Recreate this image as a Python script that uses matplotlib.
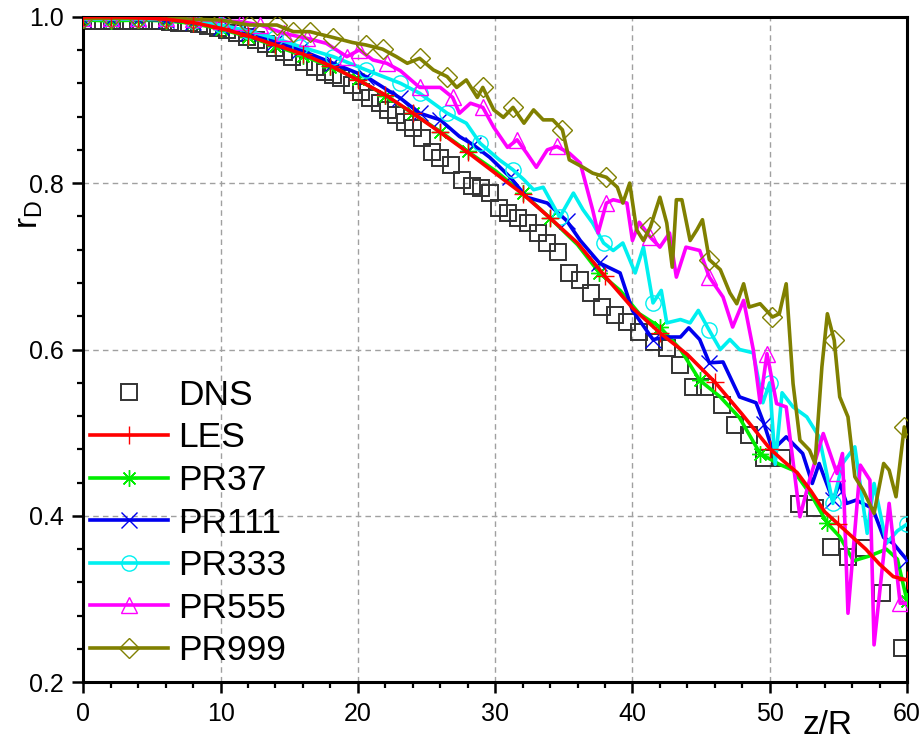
import numpy as np
import matplotlib
matplotlib.use("Agg")
import matplotlib.pyplot as plt

plt.rcParams['font.family'] = ['Liberation Sans', 'DejaVu Sans']
plt.rcParams['mathtext.default'] = 'regular'

# ---------------- data ----------------
dns_x = [0, 0.7, 1.4, 2.1, 2.8, 3.5, 4.2, 4.9, 5.6, 6.3, 7.0, 7.7, 8.4, 9.1, 9.8, 10.5, 11.2, 11.9,
         12.6, 13.3, 14.0, 14.6, 15.2, 16.1, 16.9, 17.6, 18.2, 18.8, 19.6, 20.2, 20.9, 21.6, 22.2,
         22.8, 23.4, 24.0, 24.7, 25.4, 26.0, 26.8, 27.6, 28.3, 29.0, 29.6, 30.3, 30.9, 31.7, 32.4,
         33.1, 33.8, 34.6, 35.4, 36.2, 37.0, 37.8, 38.7, 39.6, 40.5, 41.6, 42.5, 43.5, 44.4, 45.3,
         46.5, 47.5, 48.5, 49.6, 50.9, 52.1, 53.3, 54.5, 55.7, 56.9, 58.2, 59.6]
dns_y = [0.995, 0.995, 0.995, 0.995, 0.995, 0.995, 0.995, 0.995, 0.995, 0.994, 0.993, 0.992, 0.991,
         0.989, 0.987, 0.984, 0.980, 0.976, 0.972, 0.967, 0.962, 0.958, 0.952, 0.946, 0.940, 0.934,
         0.930, 0.926, 0.918, 0.909, 0.902, 0.896, 0.888, 0.882, 0.873, 0.866, 0.854, 0.837, 0.830,
         0.822, 0.804, 0.797, 0.794, 0.788, 0.770, 0.764, 0.758, 0.752, 0.740, 0.728, 0.717, 0.692,
         0.684, 0.668, 0.651, 0.641, 0.633, 0.621, 0.609, 0.602, 0.581, 0.555, 0.555, 0.533, 0.509,
         0.497, 0.470, 0.470, 0.414, 0.410, 0.363, 0.351, 0.362, 0.307, 0.241]

les_x = [0, 2, 4, 6, 8, 10, 12, 14, 16, 18, 20, 22, 24, 26, 28, 30, 32, 34, 36, 38, 40, 42, 44,
         46, 48, 50, 51, 52, 53, 54, 55, 56, 57, 58, 59, 60]
les_y = [1.000, 1.000, 0.999, 0.997, 0.993, 0.986, 0.977, 0.966, 0.955, 0.941, 0.924, 0.906, 0.884,
         0.861, 0.837, 0.812, 0.787, 0.758, 0.728, 0.688, 0.650, 0.620, 0.594, 0.561, 0.522, 0.481,
         0.466, 0.452, 0.430, 0.405, 0.390, 0.375, 0.360, 0.342, 0.327, 0.323]

pr37_x = [0, 2, 4, 6, 8, 10, 12, 14, 16, 18, 20, 22, 24, 26, 28, 30, 32, 34, 36, 37.6, 39.1, 40.5,
          42.0, 43.5, 44.9, 46.4, 47.8, 49.3, 50.7, 51.7, 53.1, 54.2, 55.1, 56.1, 57.3, 58.5, 59.3, 60]
pr37_y = [0.996, 0.995, 0.996, 0.995, 0.992, 0.985, 0.976, 0.965, 0.953, 0.940, 0.925, 0.905, 0.884,
          0.862, 0.838, 0.815, 0.788, 0.758, 0.726, 0.692, 0.671, 0.643, 0.627, 0.600, 0.563, 0.543,
          0.518, 0.475, 0.462, 0.455, 0.423, 0.391, 0.375, 0.346, 0.352, 0.360, 0.348, 0.298]

pr111_x = [0, 2, 4, 6, 8, 10, 12, 14, 15.8, 18.2, 20.6, 23.1, 24.5, 26.0, 27.4, 28.4, 29.6, 31.1,
           32.3, 33.8, 35.2, 36.2, 37.6, 39.1, 40.0, 41.5, 42.5, 43.5, 44.1, 44.9, 45.6, 46.6, 47.8,
           49.0, 49.6, 50.2, 51.2, 52.4, 53.1, 53.6, 54.6, 55.1, 55.6, 56.3, 57.5, 58.3, 59.0, 60]
pr111_y = [0.997, 0.997, 0.997, 0.996, 0.994, 0.988, 0.980, 0.970, 0.960, 0.944, 0.928, 0.902, 0.884,
           0.876, 0.856, 0.846, 0.831, 0.807, 0.783, 0.776, 0.755, 0.731, 0.704, 0.692, 0.647, 0.612,
           0.615, 0.615, 0.626, 0.612, 0.584, 0.585, 0.543, 0.536, 0.510, 0.479, 0.495, 0.475, 0.439,
           0.463, 0.419, 0.439, 0.415, 0.419, 0.409, 0.374, 0.367, 0.347]

pr333_x = [0, 2, 4, 6, 8, 10, 12, 14, 15.8, 18.2, 20.6, 23.1, 24.5, 25.5, 26.5, 27.9, 28.9, 30.3,
           31.3, 32.1, 32.8, 33.5, 34.7, 35.7, 36.4, 37.1, 37.9, 38.6, 39.3, 40.2, 40.8, 41.5, 42.1,
           42.5, 43.5, 44.2, 44.8, 45.6, 46.4, 47.1, 47.8, 48.8, 49.5, 50.0, 50.4, 50.9, 51.7, 52.7,
           53.6, 54.6, 55.3, 56.2, 57.1, 57.6, 58.5, 59.3, 60]
pr333_y = [0.997, 0.997, 0.997, 0.997, 0.995, 0.990, 0.983, 0.974, 0.964, 0.952, 0.936, 0.920, 0.908,
           0.896, 0.884, 0.872, 0.848, 0.828, 0.816, 0.804, 0.792, 0.795, 0.759, 0.788, 0.768, 0.752,
           0.728, 0.719, 0.728, 0.692, 0.723, 0.656, 0.671, 0.632, 0.636, 0.632, 0.647, 0.623, 0.600,
           0.612, 0.600, 0.596, 0.536, 0.560, 0.462, 0.548, 0.531, 0.519, 0.495, 0.415, 0.463, 0.483,
           0.379, 0.439, 0.367, 0.382, 0.390]

pr555_x = [0, 2, 4, 6, 8, 10, 11.5, 12.9, 14.6, 16.3, 17.7, 19.2, 20.1, 21.1, 22.1, 23.1, 24.5, 26.0,
           26.9, 27.4, 28.2, 29.1, 29.9, 30.9, 31.6, 32.3, 33.0, 33.8, 34.5, 35.4, 36.2, 37.1, 37.5,
           38.1, 38.6, 39.6, 40.0, 40.5, 41.3, 42.0, 42.7, 43.2, 43.9, 44.9, 45.6, 46.6, 47.3, 48.1,
           48.8, 49.3, 49.8, 50.5, 51.2, 52.2, 52.9, 53.9, 54.9, 55.3, 55.7, 56.6, 57.3, 57.6, 58.7,
           59.5, 60]
pr555_y = [0.998, 0.998, 0.998, 0.998, 0.997, 0.995, 0.994, 0.990, 0.980, 0.974, 0.968, 0.952, 0.960,
           0.948, 0.944, 0.935, 0.915, 0.915, 0.903, 0.884, 0.896, 0.891, 0.867, 0.843, 0.852, 0.836,
           0.819, 0.840, 0.844, 0.836, 0.824, 0.768, 0.740, 0.776, 0.780, 0.776, 0.731, 0.753, 0.735,
           0.723, 0.740, 0.687, 0.723, 0.719, 0.687, 0.663, 0.627, 0.659, 0.600, 0.536, 0.595, 0.535,
           0.531, 0.399, 0.443, 0.499, 0.451, 0.475, 0.283, 0.461, 0.443, 0.245, 0.415, 0.295, 0.295]

pr999_x = [0, 2, 4, 6, 8, 10, 12.1, 14.1, 15.3, 16.5, 18.2, 19.6, 20.6, 21.8, 22.8, 23.6, 24.5, 25.5,
           26.5, 27.2, 27.9, 28.7, 29.1, 29.9, 30.6, 31.3, 32.1, 32.8, 33.5, 34.2, 34.9, 35.4, 36.4,
           37.1, 38.1, 38.9, 39.3, 39.8, 40.3, 40.8, 41.3, 42.0, 42.5, 42.9, 43.2, 43.6, 44.2, 44.7,
           45.1, 45.6, 46.4, 47.1, 47.6, 48.1, 48.5, 49.3, 50.2, 50.7, 51.2, 51.7, 52.2, 52.9, 53.3,
           53.8, 54.2, 54.7, 55.1, 55.7, 56.2, 56.8, 57.6, 58.3, 58.7, 59.2, 59.8, 60]
pr999_y = [0.998, 0.998, 0.998, 0.998, 0.997, 0.996, 0.990, 0.990, 0.982, 0.982, 0.975, 0.969, 0.966,
           0.961, 0.952, 0.944, 0.950, 0.936, 0.928, 0.915, 0.924, 0.903, 0.915, 0.888, 0.879, 0.891,
           0.872, 0.888, 0.876, 0.876, 0.864, 0.828, 0.819, 0.812, 0.807, 0.795, 0.776, 0.800, 0.744,
           0.731, 0.747, 0.783, 0.752, 0.699, 0.780, 0.780, 0.731, 0.744, 0.756, 0.708, 0.696, 0.668,
           0.655, 0.679, 0.651, 0.655, 0.639, 0.643, 0.679, 0.559, 0.491, 0.479, 0.463, 0.579, 0.643,
           0.611, 0.543, 0.519, 0.447, 0.431, 0.403, 0.463, 0.455, 0.423, 0.507, 0.495]

labels = ['DNS', 'LES', 'PR37', 'PR111', 'PR333', 'PR555', 'PR999']
x_ticks = [0, 10, 20, 30, 40, 50, 60]
y_ticks = [0.2, 0.4, 0.6, 0.8, 1.0]

# approximate x positions where symbols are drawn on the lines
mark_pos = [0.3, 1.5, 2.7, 3.9, 5.1, 6.3, 7.5, 8.6, 9.6, 10.5, 11.5, 12.7, 14.0, 15.4, 16.9,
            18.5, 20.3, 22.2, 24.2, 26.5, 29.0, 31.6, 34.7, 38.0, 41.6, 45.5, 49.9, 54.6, 59.7]

# ---------------- figure ----------------
W, H = 922, 741
fig = plt.figure(figsize=(W / 100, H / 100), dpi=100)
L, R, T, B = 83.3, 907.0, 16.7, 682.3
ax = fig.add_axes([L / W, 1 - B / H, (R - L) / W, (B - T) / H])


def mevery(xs):
    xs = np.asarray(xs)
    idx = sorted(set(int(np.argmin(np.abs(xs - m))) for m in mark_pos))
    return idx


ax.plot(dns_x, dns_y, linestyle='none', marker='s', ms=12, mfc='none', mec='#333333',
        mew=1.4, label=labels[0], zorder=2)

series = [
    (pr37_x, pr37_y, '#00ee00', (8, 2, 0), 12, labels[2], 3),
    (pr111_x, pr111_y, '#0000ee', 'x', 11, labels[3], 4),
    (pr333_x, pr333_y, '#00f0f0', 'o', 11, labels[4], 5),
    (pr555_x, pr555_y, '#ff00ff', '^', 12, labels[5], 6),
    (pr999_x, pr999_y, '#808000', 'D', 10, labels[6], 7),
]
ax.plot(les_x, les_y, color='#ff0000', lw=2.6, marker='+', ms=13, mew=1.0,
        markevery=mevery(les_x), label=labels[1], zorder=8)
for xs, ys, c, mk, ms, lab, z in series:
    ax.plot(xs, ys, color=c, lw=2.6, marker=mk, ms=ms, mfc='none', mec=c, mew=1.0,
            markevery=mevery(xs), label=lab, zorder=z)

ax.set_xlim(0, 60)
ax.set_ylim(0.2, 1.0)
ax.set_xticks(x_ticks)
ax.set_yticks(y_ticks)
ax.set_yticklabels([f'{v:.1f}' for v in y_ticks])
ax.set_xticks(np.arange(0, 61, 2), minor=True)
ax.set_yticks(np.arange(0.2, 1.001, 0.04), minor=True)
ax.grid(True, which='major', color='#a0a0a0', linestyle=(0, (4, 3)), lw=1.0)
ax.set_axisbelow(True)

for s in ax.spines.values():
    s.set_linewidth(2.2)
ax.tick_params(which='major', direction='out', length=8, width=1.8, labelsize=18, pad=6,
               top=False, right=False)
ax.tick_params(which='minor', direction='out', length=4.5, width=1.6, top=False, right=False)

# reorder legend so DNS comes first, then LES, PR37 ... PR999
hs, ls = ax.get_legend_handles_labels()
order = [ls.index(l) for l in labels]
ax.legend([hs[i] for i in order], [ls[i] for i in order],
          loc='lower left', bbox_to_anchor=(0.0, 0.012), frameon=False, fontsize=25.5,
          handlelength=2.2, handletextpad=0.28, labelspacing=0.27, borderaxespad=0.2,
          borderpad=0.0, numpoints=1)

fig.text(828 / W, 1 - 725 / H, 'z/R', fontsize=24, ha='center', va='center')
fig.text(29 / W, 1 - 214 / H, r'r$_D$', fontsize=24, ha='center', va='center', rotation=90)

fig.savefig('out.png', dpi=100)
